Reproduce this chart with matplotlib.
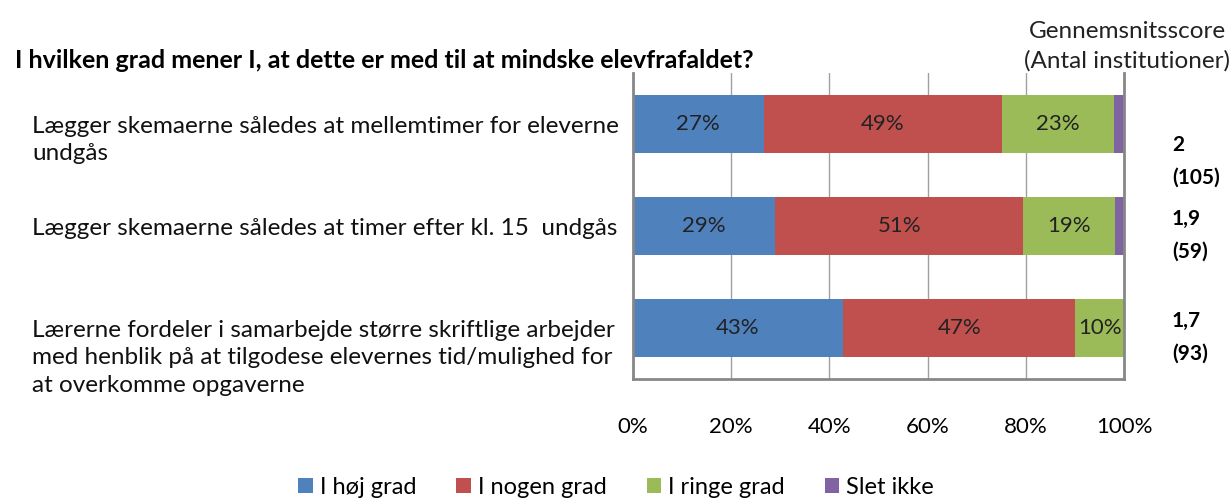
import matplotlib
matplotlib.use("Agg")
import matplotlib.pyplot as plt
import numpy as np
from matplotlib.transforms import blended_transform_factory

plt.rcParams["font.family"] = ["Lato", "DejaVu Sans"]

categories = [
    "Lægger skemaerne således at mellemtimer for eleverne\nundgås",
    "Lægger skemaerne således at timer efter kl. 15  undgås",
    "Lærerne fordeler i samarbejde større skriftlige arbejder\nmed henblik på at tilgodese elevernes tid/mulighed for\nat overkomme opgaverne",
]
series_names = ["I høj grad", "I nogen grad", "I ringe grad", "Slet ikke"]
hoej = [26.6, 28.9, 42.8]
nogen = [48.6, 50.6, 47.3]
ringe = [22.8, 18.7, 9.9]
slet = [2.0, 1.8, 0.0]
scores = ["2", "1,9", "1,7"]
counts = [105, 59, 93]
colors = ["#4F81BD", "#C0504D", "#9BBB59", "#8064A2"]

title = "I hvilken grad mener I, at dette er med til at mindske elevfrafaldet?"
header = "Gennemsnitsscore\n(Antal institutioner)"

fig = plt.figure(figsize=(12.32, 4.98), dpi=100)
ax = fig.add_axes([633 / 1232, 1 - 379 / 498, 491 / 1232, 306 / 498])

y = np.arange(len(categories))
left = np.zeros(len(categories))
for name, vals, col in zip(series_names, [hoej, nogen, ringe, slet], colors):
    vals = np.array(vals)
    ax.barh(y, vals, left=left, height=0.57, color=col, label=name, zorder=2)
    for yi, l, v in zip(y, left, vals):
        if v >= 5:
            ax.text(l + v / 2, yi, f"{v:.0f}%", ha="center", va="center",
                    fontsize=16, color="#222222", zorder=3)
    left += vals

ax.set_xlim(0, 100)
ax.set_ylim(len(categories) - 0.5, -0.5)
ax.set_xticks(np.arange(0, 101, 20))
ax.set_xticklabels([f"{t}%" for t in range(0, 101, 20)], fontsize=16)
ax.set_yticks([])
ax.tick_params(axis="x", length=0, pad=27)
ax.grid(axis="x", color="#A0A0A0", linewidth=1, zorder=0)
ax.spines["top"].set_visible(False)
for s in ["left", "right", "bottom"]:
    ax.spines[s].set_color("#878787")
    ax.spines[s].set_linewidth(2)

trans = blended_transform_factory(fig.transFigure, ax.transData)
for yi, cat in zip(y, categories):
    ax.annotate(cat, xy=(32 / 1232, yi), xycoords=trans, xytext=(0, 6),
                textcoords="offset points", ha="left", va="top",
                fontsize=17.5, linespacing=1.4, color="#111111")

# score boxes sit a little below each bar (first one lower, as in the original)
score_offsets = [-27, -7, -7]
for yi, sc, n, off in zip(y, scores, counts, score_offsets):
    ax.annotate(f"{sc}\n({n})", xy=(1172 / 1232, yi), xycoords=trans,
                xytext=(0, off), textcoords="offset points", ha="left",
                va="center", fontsize=15, fontweight="bold", linespacing=1.8)

fig.text(15 / 1232, 1 - 61 / 498, title, fontsize=18, fontweight="bold",
         ha="left", va="center")
fig.text(1127 / 1232, 1 - 46 / 498, header, fontsize=17.5, ha="center",
         va="center", linespacing=1.45, color="#222222")

fig.legend(loc="center", bbox_to_anchor=(0.5, 1 - 487 / 498), ncol=4,
           frameon=False, fontsize=17, handlelength=0.6, handleheight=0.6,
           handletextpad=0.3, columnspacing=1.7)

fig.savefig("out.png", dpi=100)
